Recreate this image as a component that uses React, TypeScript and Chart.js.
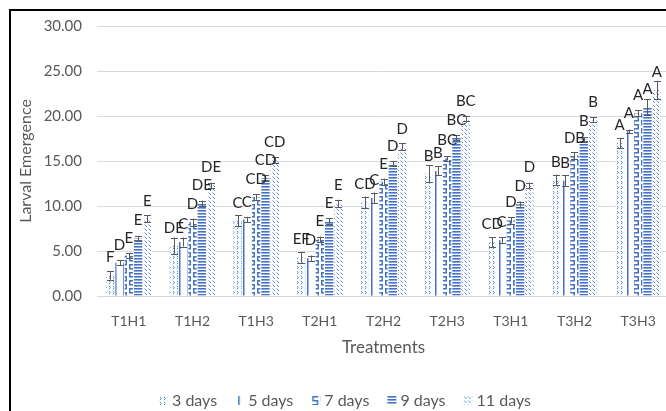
import React, { useEffect, useRef } from "react";
import { Chart, registerables } from "chart.js";

Chart.register(...registerables);

const categories = ["T1H1", "T1H2", "T1H3", "T2H1", "T2H2", "T2H3", "T3H1", "T3H2", "T3H3"];
const seriesNames = ["3 days", "5 days", "7 days", "9 days", "11 days"];

const days3 = [2.3, 5.6, 8.35, 4.3, 10.4, 13.6, 6.0, 12.9, 17.0];
const days5 = [3.7, 6.0, 8.5, 4.2, 10.9, 13.9, 6.2, 12.8, 18.3];
const days7 = [4.5, 8.2, 11.0, 6.3, 12.7, 15.3, 8.4, 15.6, 20.3];
const days9 = [6.4, 10.3, 13.1, 8.35, 14.7, 17.6, 10.2, 17.4, 21.0];
const days11 = [8.6, 12.3, 15.1, 10.3, 16.6, 19.7, 12.3, 19.6, 22.9];

const err3 = [0.5, 0.9, 0.6, 0.6, 0.65, 0.9, 0.55, 0.6, 0.55];
const err5 = [0.3, 0.5, 0.3, 0.3, 0.6, 0.5, 0.35, 0.6, 0.2];
const err7 = [0.3, 0.4, 0.3, 0.3, 0.35, 0.25, 0.35, 0.35, 0.35];
const err9 = [0.3, 0.3, 0.3, 0.3, 0.3, 0.3, 0.3, 0.25, 0.85];
const err11 = [0.4, 0.3, 0.3, 0.4, 0.35, 0.3, 0.3, 0.25, 1.0];

const let3 = ["F", "DE", "C", "EF", "CD", "B", "CD", "B", "A"];
const let5 = ["D", "C", "C", "D", "C", "B", "C", "B", "A"];
const let7 = ["E", "D", "CD", "E", "E", "BC", "D", "DB", "A"];
const let9 = ["E", "DE", "CD", "E", "D", "BC", "D", "B", "A"];
const let11 = ["E", "DE", "CD", "E", "D", "BC", "D", "B", "A"];

const yTicks = [0, 5, 10, 15, 20, 25, 30];

const FONT = "Lato, 'Noto Sans', sans-serif";
const BLUE = "#4472C4";

function makePattern(w: number, h: number, draw: (c: CanvasRenderingContext2D) => void) {
  const cv = document.createElement("canvas");
  cv.width = w;
  cv.height = h;
  const c = cv.getContext("2d")!;
  c.fillStyle = "#ffffff";
  c.fillRect(0, 0, w, h);
  draw(c);
  const ctx = document.createElement("canvas").getContext("2d")!;
  return ctx.createPattern(cv, "repeat")!;
}

function buildPatterns() {
  const p3 = makePattern(4, 5, (c) => {
    c.strokeStyle = "#5f88d2";
    c.lineWidth = 1;
    c.beginPath();
    c.moveTo(1, 0.8);
    c.quadraticCurveTo(3.6, 2.5, 1, 4.2);
    c.stroke();
  });
  const p5 = makePattern(8, 2, (c) => {
    c.fillStyle = BLUE;
    c.fillRect(3, 0, 1, 2);
    c.fillStyle = "#9fb7e3";
    c.fillRect(4, 0, 1, 2);
  });
  const p7 = makePattern(8, 8, (c) => {
    c.fillStyle = BLUE;
    c.fillRect(1, 0, 6, 1.5);
    c.fillRect(1, 0, 1.5, 4);
    c.fillRect(1, 4, 6, 1.5);
    c.fillRect(5.5, 4, 1.5, 4);
  });
  const p9 = makePattern(4, 3, (c) => {
    c.fillStyle = BLUE;
    c.fillRect(0, 0, 4, 1);
    c.fillStyle = "#8eaadc";
    c.fillRect(0, 1, 4, 1);
  });
  const p11 = makePattern(4, 4, (c) => {
    c.strokeStyle = "#5f88d2";
    c.lineWidth = 1;
    c.beginPath();
    c.moveTo(0.5, 0.5);
    c.lineTo(3, 3);
    c.stroke();
  });
  return [p3, p5, p7, p9, p11];
}

export default function App() {
  const ref = useRef<HTMLCanvasElement | null>(null);

  useEffect(() => {
    if (!ref.current) return;
    const patterns = buildPatterns();
    const values = [days3, days5, days7, days9, days11];
    const errors = [err3, err5, err7, err9, err11];
    const letters = [let3, let5, let7, let9, let11];

    const extras = {
      id: "extras",
      beforeDraw(chart: any) {
        const ctx = chart.ctx;
        ctx.save();
        ctx.fillStyle = "#ffffff";
        ctx.fillRect(0, 0, chart.width, chart.height);
        ctx.restore();
      },
      afterDatasetsDraw(chart: any) {
        const ctx = chart.ctx;
        const y = chart.scales.y;
        ctx.save();
        chart.data.datasets.forEach((ds: any, di: number) => {
          const meta = chart.getDatasetMeta(di);
          meta.data.forEach((el: any, i: number) => {
            const v = values[di][i];
            const e = errors[di][i];
            const x = Math.round(el.x) + 0.5;
            const yHi = y.getPixelForValue(v + e);
            const yLo = y.getPixelForValue(v - e);
            ctx.strokeStyle = "#595959";
            ctx.lineWidth = 1;
            ctx.beginPath();
            ctx.moveTo(x, yHi);
            ctx.lineTo(x, yLo);
            ctx.moveTo(x - 3.5, Math.round(yHi) + 0.5);
            ctx.lineTo(x + 3.5, Math.round(yHi) + 0.5);
            ctx.moveTo(x - 3.5, Math.round(yLo) + 0.5);
            ctx.lineTo(x + 3.5, Math.round(yLo) + 0.5);
            ctx.stroke();
          });
        });
        ctx.font = `15px ${FONT}`;
        ctx.fillStyle = "#262626";
        ctx.textAlign = "center";
        ctx.textBaseline = "alphabetic";
        chart.data.datasets.forEach((ds: any, di: number) => {
          const meta = chart.getDatasetMeta(di);
          meta.data.forEach((el: any, i: number) => {
            ctx.fillText(letters[di][i], el.x, el.y - 13);
          });
        });
        ctx.restore();
      },
      afterDraw(chart: any) {
        const ctx = chart.ctx;
        ctx.save();
        // legend
        ctx.font = `16px ${FONT}`;
        ctx.textBaseline = "middle";
        ctx.textAlign = "left";
        const icon = 9;
        const gapIcon = 4;
        const gapItem = 18;
        const widths = seriesNames.map((n) => icon + gapIcon + ctx.measureText(n).width);
        const total = widths.reduce((a, b) => a + b, 0) + gapItem * (seriesNames.length - 1);
        let lx = Math.round(345 - total / 2);
        const ly = 400;
        seriesNames.forEach((n, i) => {
          ctx.save();
          ctx.translate(lx, Math.round(ly - icon / 2));
          ctx.fillStyle = patterns[i];
          ctx.fillRect(0, 0, icon, icon);
          ctx.restore();
          ctx.fillStyle = "#595959";
          ctx.fillText(n, lx + icon + gapIcon, ly + 1);
          lx += widths[i] + gapItem;
        });
        // frame
        ctx.fillStyle = "#000000";
        ctx.fillRect(9, 9, 2, chart.height);
        ctx.fillRect(9, 9, chart.width, 2);
        ctx.restore();
      },
    };

    const chart = new Chart(ref.current, {
      type: "bar",
      data: {
        labels: categories,
        datasets: seriesNames.map((name, i) => ({
          label: name,
          data: values[i],
          backgroundColor: patterns[i],
          borderWidth: 0,
          categoryPercentage: 0.73,
          barPercentage: 0.9,
        })),
      },
      options: {
        responsive: false,
        animation: false,
        layout: { padding: { left: 0, right: 20, top: 26, bottom: 0 } },
        plugins: {
          legend: { display: false },
          tooltip: { enabled: false },
        },
        scales: {
          x: {
            grid: { display: false, drawTicks: false },
            border: { display: true, color: "#d9d9d9" },
            ticks: { color: "#595959", font: { family: FONT, size: 14 }, padding: 17 },
            title: {
              display: true,
              text: "Treatments",
              color: "#595959",
              font: { family: FONT, size: 17 },
              padding: { top: 0, bottom: 53 },
            },
            afterFit: (s: any) => {
              s.height = 115;
            },
          },
          y: {
            min: 0,
            max: 30,
            afterBuildTicks: (s: any) => {
              s.ticks = yTicks.map((v) => ({ value: v }));
            },
            grid: { color: "#d9d9d9", drawTicks: false },
            border: { display: false },
            ticks: {
              color: "#595959",
              font: { family: FONT, size: 15 },
              padding: 15,
              callback: (v: any) => Number(v).toFixed(2),
            },
            title: {
              display: true,
              text: "Larval Emergence",
              color: "#595959",
              font: { family: FONT, size: 16 },
              padding: { top: 16, bottom: 0 },
            },
            afterFit: (s: any) => {
              s.width = 97;
            },
          },
        },
      },
      plugins: [extras],
    });
    return () => chart.destroy();
  }, []);

  return (
    <div style={{ position: "fixed", left: 0, top: 0, width: 666, height: 411, overflow: "hidden", background: "#fff" }}>
      <canvas ref={ref} width={690} height={411} style={{ display: "block" }} />
    </div>
  );
}
